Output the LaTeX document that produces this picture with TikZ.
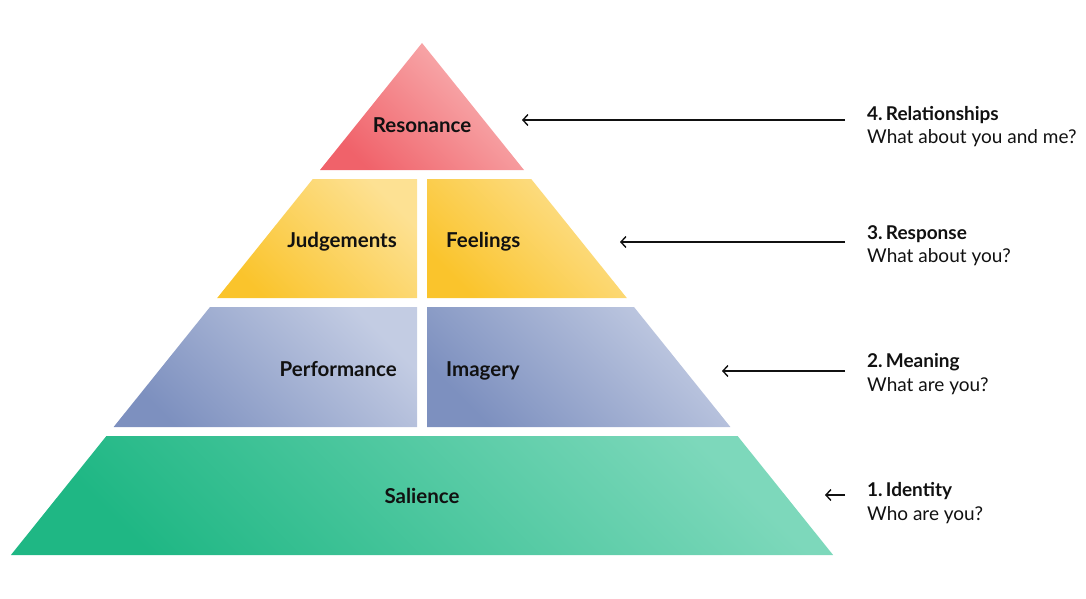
\documentclass[tikz,border=0pt]{standalone}
\usepackage{fontspec}
\setmainfont{Lato}
\usepackage{tikz}
\usetikzlibrary{calc,positioning,arrows.meta}

\definecolor{resDark}{HTML}{F0626A}
\definecolor{resLight}{HTML}{F9B7B7}
\definecolor{respDark}{HTML}{FAC42C}
\definecolor{respLight}{HTML}{FDE193}
\definecolor{meanDark}{HTML}{7D90BF}
\definecolor{meanLight}{HTML}{C3CCE3}
\definecolor{idDark}{HTML}{1FB784}
\definecolor{idLight}{HTML}{7DD8BB}
\definecolor{ink}{HTML}{111111}

\tikzset{
  tier/.style n args={2}{bottom color=#1,top color=#2,shading angle=-45},
  tierlabel/.style={font=\fontsize{20.5}{22}\selectfont\bfseries,text=ink,inner sep=0pt,text height=14.5pt,text depth=0pt},
  sidelabel/.style={font=\fontsize{19}{23.5}\selectfont,text=ink,align=left,anchor=west,inner sep=0pt},
  pointer/.style={-{Straight Barb[length=5pt,width=11pt]},line width=1.4pt,draw=ink}
}

\begin{document}
\begin{tikzpicture}[x=1pt,y=-1pt]
	\useasboundingbox (0,0) rectangle (1086,599);
	\begin{scope}
		% pyramid
		\shade[tier={resDark}{resLight}] (422,43) -- (524,170) -- (320,170) -- cycle;
		\shade[tier={respDark}{respLight}] (312.8,179) -- (417,179) -- (417,298) -- (217.2,298) -- cycle;
		\shade[tier={respDark}{respLight}] (427,179) -- (531.2,179) -- (626.8,298) -- (427,298) -- cycle;
		\shade[tier={meanDark}{meanLight}] (210,307) -- (417,307) -- (417,427) -- (113.6,427) -- cycle;
		\shade[tier={meanDark}{meanLight}] (427,307) -- (634,307) -- (730.4,427) -- (427,427) -- cycle;
		\shade[tier={idDark}{idLight}] (106.4,436) -- (737.6,436) -- (833.1,555) -- (10.9,555) -- cycle;

		\node(reso) [tierlabel] at (422,125) {Resonance};
		\node(judg) [tierlabel,anchor=east] at (397,240) {Judgements};
		\node(feel) [tierlabel,anchor=west] at (446,240) {Feelings};
		\node(perf) [tierlabel,anchor=east] at (397,369) {Performance};
		\node(imag) [tierlabel,anchor=west] at (446,369) {Imagery};
		\node(sali) [tierlabel] at (422,496) {Salience};

		% levels
		\node(rel) [sidelabel] at (867,126.5) {\textbf{4.\,Relationships}\\What about you and me?};
		\node(rsp) [sidelabel] at (867,245.5) {\textbf{3.\,Response}\\What about you?};
		\node(mng) [sidelabel] at (867,374) {\textbf{2.\,Meaning}\\What are you?};
		\node(idn) [sidelabel] at (867,503) {\textbf{1.\,Identity}\\Who are you?};

		\coordinate(relTip) at (522,120);
		\coordinate(rspTip) at (620,242);
		\coordinate(mngTip) at (722,371);
		\coordinate(idnTip) at (825,495);

		\draw[pointer] (relTip -| 845,0) -- (relTip);
		\draw[pointer] (rspTip -| 845,0) -- (rspTip);
		\draw[pointer] (mngTip -| 845,0) -- (mngTip);
		\draw[pointer] (idnTip -| 845,0) -- (idnTip);
	\end{scope}
\end{tikzpicture}
\end{document}
